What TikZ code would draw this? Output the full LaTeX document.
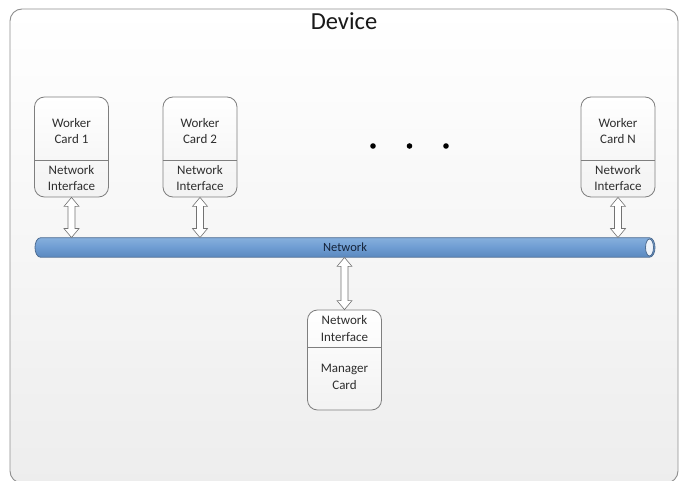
\documentclass[tikz,border=0pt]{standalone}
\usepackage{fontspec}
\setmainfont{Carlito}
\usetikzlibrary{calc}

\definecolor{frameedge}{HTML}{8E8E8E}
\definecolor{cardedge}{HTML}{7F7F7F}
\definecolor{cardtext}{HTML}{2E2E2E}
\definecolor{netbody}{HTML}{6E9CD2}
\definecolor{netlight}{HTML}{86AFDD}
\definecolor{netdark}{HTML}{5B88BE}
\definecolor{netedge}{HTML}{4F6E93}
\definecolor{netend}{HTML}{EEF3FA}
\definecolor{nettext}{HTML}{16243A}

\tikzset{
  card/.style={draw=cardedge, line width=0.8pt, rounded corners=10pt,
    top color=white, bottom color=black!5,
    minimum width=74pt, minimum height=100pt, inner sep=0pt},
  divider/.style={draw=cardedge, line width=0.8pt},
  cardlabel/.style={align=center, text=cardtext, inner sep=0pt,
    font=\fontsize{13}{16.5}\selectfont},
  linkarrow/.style={draw=black!55, fill=white, line width=0.6pt, line join=miter},
  dot/.style={circle, fill=black, inner sep=0pt, minimum size=5.6pt},
}

% hollow double-headed block arrow between two vertically aligned points
\newcommand\linkarrow[2]{%
  \draw[linkarrow] let \p1=(#1), \p2=(#2) in
    (\x1,\y1) -- (\x1+7.5pt,\y1-9pt) -- (\x1+3.5pt,\y1-9pt)
    -- (\x1+3.5pt,\y2+9pt) -- (\x1+7.5pt,\y2+9pt) -- (\x1,\y2)
    -- (\x1-7.5pt,\y2+9pt) -- (\x1-3.5pt,\y2+9pt)
    -- (\x1-3.5pt,\y1-9pt) -- (\x1-7.5pt,\y1-9pt) -- cycle;}

\begin{document}
\begin{tikzpicture}[x=1pt, y=-1pt]
\useasboundingbox (0,0) rectangle (681,481);

% device enclosure
\begin{scope}
  \clip (0,0) rectangle (681,481);
  \path[draw=frameedge, line width=0.9pt, rounded corners=12pt,
        top color=white, bottom color=black!7]
    (10,9) rectangle (678,483);
\end{scope}
\node[font=\fontsize{24.5}{28}\selectfont, text=black!90, inner sep=0pt] (title) at (344,21) {Device};

% network bus (horizontal cylinder)
\node[minimum width=620pt, minimum height=19.5pt, inner sep=0pt] (net) at (345,247.5) {};
\def\rx{5.5}\def\ry{9.75}\def\kk{0.5523}
\path[draw=netedge, line width=0.8pt, top color=netlight, bottom color=netdark, middle color=netbody]
  (40.5,237.75) -- (649.5,237.75)
  .. controls (649.5+\kk*\rx,237.75) and (655,247.5-\kk*\ry) .. (655,247.5)
  .. controls (655,247.5+\kk*\ry) and (649.5+\kk*\rx,257.25) .. (649.5,257.25)
  -- (40.5,257.25)
  .. controls (40.5-\kk*\rx,257.25) and (35,247.5+\kk*\ry) .. (35,247.5)
  .. controls (35,247.5-\kk*\ry) and (40.5-\kk*\rx,237.75) .. (40.5,237.75) -- cycle;
\draw[netedge, line width=0.8pt, fill=netend] (649.5,247.5) ellipse [x radius=4pt, y radius=8.5pt];
\node[text=nettext, font=\fontsize{12.5}{14}\selectfont, inner sep=0pt] (netlabel) at (345,247) {Network};

% worker cards
\foreach \name/\cx/\txt in {w1/71.5/Worker\\Card 1, w2/200/Worker\\Card 2, wn/618/Worker\\Card N}{
  \node[card] (\name) at (\cx,147) {};
  \draw[divider] (\name.west |- 0,160) -- (\name.east |- 0,160);
  \node[cardlabel] (\name top) at (\cx,131) {\txt};
  \node[cardlabel] (\name nic) at (\cx,178) {Network\\Interface};
}

% manager card
\node[card] (mgr) at (344.5,360) {};
\draw[divider] (mgr.west |- 0,347) -- (mgr.east |- 0,347);
\node[cardlabel] (mgrnic) at (344.5,328.5) {Network\\Interface};
\node[cardlabel] (mgrtop) at (344.5,377) {Manager\\Card};

% links between cards and the bus
\linkarrow{w1.south}{w1.south |- net.north}
\linkarrow{w2.south}{w2.south |- net.north}
\linkarrow{wn.south}{wn.south |- net.north}
\linkarrow{mgr.north |- net.south}{mgr.north}

% ellipsis between worker cards
\node[dot] (d1) at (373,146) {};
\node[dot] (d2) at (409.5,146) {};
\node[dot] (d3) at (446,146) {};
\end{tikzpicture}
\end{document}
